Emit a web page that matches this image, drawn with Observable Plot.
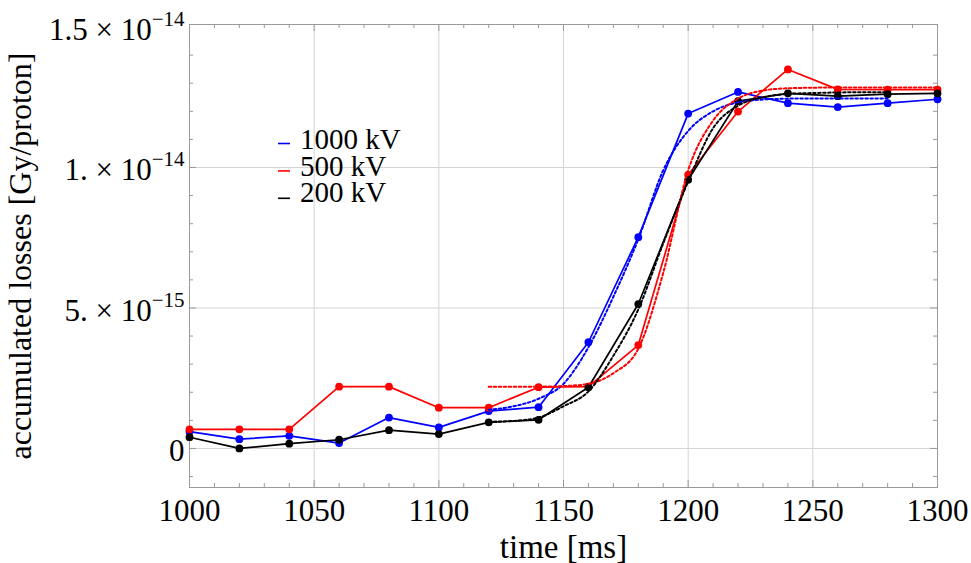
<!DOCTYPE html>
<html><head><meta charset="utf-8">
<script src="https://cdn.jsdelivr.net/npm/d3@7"></script>
<script src="https://cdn.jsdelivr.net/npm/@observablehq/plot@0.6"></script>
<style>
body{margin:0;background:#fff}
#wrap{position:relative;width:971px;height:563px;overflow:hidden}
#legend{position:absolute;left:270px;top:120px}
</style></head><body><div id="wrap"></div>
<script>
// values in units of 1e-15 Gy/proton
const times = [1000,1020,1040,1060,1080,1100,1120,1140,1160,1180,1200,1220,1240,1260,1280,1300];
const loss1000 = [0.60,0.33,0.45,0.19,1.10,0.75,1.33,1.47,3.78,7.52,11.92,12.69,12.29,12.15,12.29,12.43];
const loss500  = [0.68,0.68,0.68,2.20,2.20,1.45,1.45,2.18,2.20,3.68,9.74,11.99,13.49,12.78,12.77,12.77];
const loss200  = [0.40,0.00,0.17,0.31,0.65,0.51,0.93,1.02,2.18,5.14,9.56,12.36,12.64,12.54,12.61,12.64];

const fitTimes = [1120,1130,1140,1150,1160,1170,1180,1190,1200,1210,1220,1230,1240,1250,1260,1270,1280,1290,1300];
const fit1000 = [1.38,1.50,1.77,2.30,3.60,5.40,7.45,9.90,11.30,12.00,12.32,12.42,12.45,12.46,12.46,12.46,12.46];
const fit500  = [2.20,2.20,2.20,2.22,2.30,2.68,3.55,6.25,9.90,11.67,12.45,12.74,12.82,12.84,12.85,12.85,12.85,12.85,12.85];
const fit200  = [0.95,0.98,1.10,1.50,2.03,3.30,4.95,7.30,9.50,11.40,12.20,12.50,12.62,12.65,12.67,12.68,12.68];

const seriesNames = ["1000 kV","500 kV","200 kV"];
const seriesColors = ["#0000ff","#ff0000","#000000"];

const xTicks = [1000,1050,1100,1150,1200,1250,1300];
const xGrid = [1050,1100,1150,1200,1250];
const xMinor = d3.range(1010,1300,10).filter(d => d % 50 !== 0);
const yTicks = [0,5,10,15];
const yTickLabels = ["0","5. × 10^\u221215","1. × 10^\u221214","1.5 × 10^\u221214"];
const yGrid = [0,5,10];
const yMinor = [-1,1,2,3,4,6,7,8,9,11,12,13,14];

const W = 971, H = 563, mL = 189, mR = 34, mT = 24, mB = 76;
const pw = W - mL - mR, ph = H - mT - mB;

const raw = [loss1000, loss500, loss200];
const fits = [fit1000, fit500, fit200];
const pts = [], fitPts = [];
raw.forEach((arr, s) => arr.forEach((v, i) => pts.push({t: times[i], v, s: seriesNames[s]})));
fits.forEach((arr, s) => arr.forEach((v, i) => fitPts.push({t: fitTimes[i], v, s: seriesNames[s]})));

const frameCol = "#999";
const tickMarks = [];
[[xTicks.slice(1,-1),7],[xMinor,4]].forEach(([arr,len]) => {
  tickMarks.push(Plot.tickX(arr, {x: d => d, insetTop: ph - len, stroke: frameCol}));
  tickMarks.push(Plot.tickX(arr, {x: d => d, insetBottom: ph - len, stroke: frameCol}));
});
[[yGrid,7],[yMinor,4]].forEach(([arr,len]) => {
  tickMarks.push(Plot.tickY(arr, {y: d => d, insetRight: pw - len, stroke: frameCol}));
  tickMarks.push(Plot.tickY(arr, {y: d => d, insetLeft: pw - len, stroke: frameCol}));
});

const lineMarks = [];
seriesNames.forEach((name, s) => {
  lineMarks.push(Plot.line(pts.filter(d => d.s === name), {x: "t", y: "v", stroke: seriesColors[s], strokeWidth: 1.7}));
  lineMarks.push(Plot.dot(pts.filter(d => d.s === name), {x: "t", y: "v", fill: seriesColors[s], r: 3.9}));
});
seriesNames.forEach((name, s) => {
  lineMarks.push(Plot.line(fitPts.filter(d => d.s === name), {x: "t", y: "v", stroke: seriesColors[s], strokeWidth: 2, strokeDasharray: "2.5,2.5", curve: "monotone-x"}));
});

const chart = Plot.plot({
  width: W, height: H, marginLeft: mL, marginRight: mR, marginTop: mT, marginBottom: mB,
  style: {fontFamily: '"Liberation Serif", serif', fontSize: "31px", background: "white", overflow: "visible", color: "black"},
  x: {domain: [1000, 1300]},
  y: {domain: [-1.39, 15.09]},
  marks: [
    Plot.gridX(xGrid, {stroke: "#d4d4d4", strokeOpacity: 1}),
    Plot.gridY(yGrid, {stroke: "#d4d4d4", strokeOpacity: 1}),
    ...tickMarks,
    Plot.frame({stroke: frameCol}),
    Plot.axisX(xTicks, {tickSize: 0, tickPadding: 11, tickFormat: d => String(d), fontSize: 31, label: null}),
    Plot.axisY(yTicks, {tickSize: 0, tickPadding: 5, fontSize: 31, dy: 3, label: null,
      tickFormat: d => yTickLabels[yTicks.indexOf(d)]}),
    Plot.axisX({ticks: [], tickSize: 0, fontSize: 33, label: "time [ms]", labelAnchor: "center", labelArrow: "none", labelOffset: 70}),
    Plot.axisY({ticks: [], tickSize: 0, fontSize: 32, label: "accumulated losses [Gy/proton]", labelAnchor: "center", labelArrow: "none", labelOffset: 181}),
    ...lineMarks
  ]
});

// superscript exponents in y tick labels
d3.select(chart).selectAll('g[aria-label="y-axis tick label"] text').each(function() {
  const txt = this.textContent;
  const k = txt.indexOf("^");
  if (k < 0) return;
  this.textContent = txt.slice(0, k);
  const ts = document.createElementNS("http://www.w3.org/2000/svg", "tspan");
  ts.setAttribute("dy", "-14");
  ts.setAttribute("font-size", "21");
  ts.textContent = txt.slice(k + 1);
  this.appendChild(ts);
});

const wrap = document.getElementById("wrap");
wrap.appendChild(chart);

// legend
const lg = d3.select(wrap).append("svg").attr("id", "legend").attr("width", 170).attr("height", 95)
  .style("font-family", '"Liberation Serif", serif').style("font-size", "29px");
seriesNames.forEach((name, i) => {
  lg.append("line").attr("x1", 8).attr("x2", 20).attr("y1", 23.5 + 27.4 * i).attr("y2", 23.5 + 27.4 * i)
    .attr("stroke", seriesColors[i]).attr("stroke-width", 1.6);
  lg.append("text").attr("x", 30).attr("y", 29 + 26.7 * i).text(name);
});
</script></body></html>
